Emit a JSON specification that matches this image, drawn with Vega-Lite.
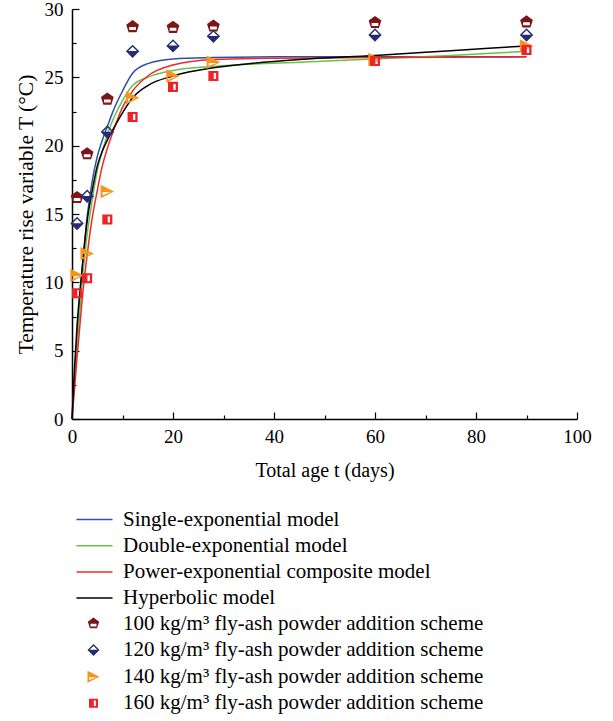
{
  "$schema": "https://vega.github.io/schema/vega-lite/v6.json",
  "autosize": {"type": "none"},
  "width": 505,
  "height": 410,
  "padding": {"left": 72, "top": 9, "right": 36, "bottom": 302},
  "background": "white",
  "config": {
    "view": {"stroke": null},
    "font": "Liberation Serif",
    "axis": {"labelFont": "Liberation Serif", "titleFont": "Liberation Serif", "labelFontSize": 19, "titleFontSize": 20, "titleFontWeight": "normal", "labelColor": "#000", "titleColor": "#000", "domainColor": "#000", "tickColor": "#000", "grid": false, "labelFlush": false},
    "legend": {"labelFont": "Liberation Serif", "labelFontSize": 21, "labelColor": "#000", "title": null, "labelLimit": 0}
  },
  "datasets": {
    "models": [
      {"model": "Single-exponential model", "t": 0, "T": 0},
      {"model": "Single-exponential model", "t": 0.5, "T": 3.0},
      {"model": "Single-exponential model", "t": 1, "T": 5.8},
      {"model": "Single-exponential model", "t": 2, "T": 10.8},
      {"model": "Single-exponential model", "t": 3, "T": 14.8},
      {"model": "Single-exponential model", "t": 4, "T": 17.4},
      {"model": "Single-exponential model", "t": 5, "T": 19.2},
      {"model": "Single-exponential model", "t": 6, "T": 20.4},
      {"model": "Single-exponential model", "t": 7, "T": 21.4},
      {"model": "Single-exponential model", "t": 8, "T": 22.4},
      {"model": "Single-exponential model", "t": 10, "T": 24.0},
      {"model": "Single-exponential model", "t": 12, "T": 25.3},
      {"model": "Single-exponential model", "t": 15, "T": 26.0},
      {"model": "Single-exponential model", "t": 20, "T": 26.35},
      {"model": "Single-exponential model", "t": 28, "T": 26.45},
      {"model": "Single-exponential model", "t": 40, "T": 26.5},
      {"model": "Single-exponential model", "t": 60, "T": 26.5},
      {"model": "Single-exponential model", "t": 90, "T": 26.5},
      {"model": "Double-exponential model", "t": 0, "T": 0},
      {"model": "Double-exponential model", "t": 0.5, "T": 2.9},
      {"model": "Double-exponential model", "t": 1, "T": 5.5},
      {"model": "Double-exponential model", "t": 2, "T": 10.0},
      {"model": "Double-exponential model", "t": 3, "T": 13.5},
      {"model": "Double-exponential model", "t": 4, "T": 16.0},
      {"model": "Double-exponential model", "t": 5, "T": 18.2},
      {"model": "Double-exponential model", "t": 6, "T": 19.6},
      {"model": "Double-exponential model", "t": 7, "T": 20.8},
      {"model": "Double-exponential model", "t": 8, "T": 21.8},
      {"model": "Double-exponential model", "t": 10, "T": 23.3},
      {"model": "Double-exponential model", "t": 12, "T": 24.4},
      {"model": "Double-exponential model", "t": 15, "T": 25.0},
      {"model": "Double-exponential model", "t": 20, "T": 25.5},
      {"model": "Double-exponential model", "t": 28, "T": 25.8},
      {"model": "Double-exponential model", "t": 35, "T": 25.95},
      {"model": "Double-exponential model", "t": 45, "T": 26.1},
      {"model": "Double-exponential model", "t": 60, "T": 26.35},
      {"model": "Double-exponential model", "t": 75, "T": 26.6},
      {"model": "Double-exponential model", "t": 90, "T": 26.9},
      {"model": "Power-exponential composite model", "t": 0, "T": 0},
      {"model": "Power-exponential composite model", "t": 0.5, "T": 2.2},
      {"model": "Power-exponential composite model", "t": 1, "T": 4.5},
      {"model": "Power-exponential composite model", "t": 2, "T": 8.7},
      {"model": "Power-exponential composite model", "t": 3, "T": 12.0},
      {"model": "Power-exponential composite model", "t": 4, "T": 14.7},
      {"model": "Power-exponential composite model", "t": 5, "T": 16.7},
      {"model": "Power-exponential composite model", "t": 6, "T": 18.5},
      {"model": "Power-exponential composite model", "t": 7, "T": 19.8},
      {"model": "Power-exponential composite model", "t": 8, "T": 20.9},
      {"model": "Power-exponential composite model", "t": 10, "T": 22.8},
      {"model": "Power-exponential composite model", "t": 12, "T": 24.0},
      {"model": "Power-exponential composite model", "t": 15, "T": 25.1},
      {"model": "Power-exponential composite model", "t": 20, "T": 25.9},
      {"model": "Power-exponential composite model", "t": 28, "T": 26.3},
      {"model": "Power-exponential composite model", "t": 40, "T": 26.4},
      {"model": "Power-exponential composite model", "t": 60, "T": 26.45},
      {"model": "Power-exponential composite model", "t": 90, "T": 26.5},
      {"model": "Hyperbolic model", "t": 0, "T": 0},
      {"model": "Hyperbolic model", "t": 0.5, "T": 3.7},
      {"model": "Hyperbolic model", "t": 1, "T": 6.8},
      {"model": "Hyperbolic model", "t": 2, "T": 11.0},
      {"model": "Hyperbolic model", "t": 3, "T": 14.5},
      {"model": "Hyperbolic model", "t": 4, "T": 16.7},
      {"model": "Hyperbolic model", "t": 5, "T": 18.5},
      {"model": "Hyperbolic model", "t": 6, "T": 19.6},
      {"model": "Hyperbolic model", "t": 7, "T": 20.4},
      {"model": "Hyperbolic model", "t": 8, "T": 21.1},
      {"model": "Hyperbolic model", "t": 10, "T": 22.4},
      {"model": "Hyperbolic model", "t": 12, "T": 23.5},
      {"model": "Hyperbolic model", "t": 15, "T": 24.4},
      {"model": "Hyperbolic model", "t": 20, "T": 25.1},
      {"model": "Hyperbolic model", "t": 28, "T": 25.7},
      {"model": "Hyperbolic model", "t": 35, "T": 26.0},
      {"model": "Hyperbolic model", "t": 45, "T": 26.3},
      {"model": "Hyperbolic model", "t": 60, "T": 26.6},
      {"model": "Hyperbolic model", "t": 75, "T": 26.95},
      {"model": "Hyperbolic model", "t": 90, "T": 27.3}
    ],
    "points": [
      {"scheme": "100 kg/m³ fly-ash powder addition scheme", "t": 1, "T": 16.2},
      {"scheme": "100 kg/m³ fly-ash powder addition scheme", "t": 3, "T": 19.4},
      {"scheme": "100 kg/m³ fly-ash powder addition scheme", "t": 7, "T": 23.4},
      {"scheme": "100 kg/m³ fly-ash powder addition scheme", "t": 12, "T": 28.7},
      {"scheme": "100 kg/m³ fly-ash powder addition scheme", "t": 20, "T": 28.65},
      {"scheme": "100 kg/m³ fly-ash powder addition scheme", "t": 28, "T": 28.75},
      {"scheme": "100 kg/m³ fly-ash powder addition scheme", "t": 60, "T": 29.0},
      {"scheme": "100 kg/m³ fly-ash powder addition scheme", "t": 90, "T": 29.05},
      {"scheme": "120 kg/m³ fly-ash powder addition scheme", "t": 1, "T": 14.3},
      {"scheme": "120 kg/m³ fly-ash powder addition scheme", "t": 3, "T": 16.3},
      {"scheme": "120 kg/m³ fly-ash powder addition scheme", "t": 7, "T": 21.0},
      {"scheme": "120 kg/m³ fly-ash powder addition scheme", "t": 12, "T": 26.9},
      {"scheme": "120 kg/m³ fly-ash powder addition scheme", "t": 20, "T": 27.3},
      {"scheme": "120 kg/m³ fly-ash powder addition scheme", "t": 28, "T": 28.0},
      {"scheme": "120 kg/m³ fly-ash powder addition scheme", "t": 60, "T": 28.1},
      {"scheme": "120 kg/m³ fly-ash powder addition scheme", "t": 90, "T": 28.1},
      {"scheme": "140 kg/m³ fly-ash powder addition scheme", "t": 1, "T": 10.5},
      {"scheme": "140 kg/m³ fly-ash powder addition scheme", "t": 3, "T": 12.1},
      {"scheme": "140 kg/m³ fly-ash powder addition scheme", "t": 7, "T": 16.65},
      {"scheme": "140 kg/m³ fly-ash powder addition scheme", "t": 12, "T": 23.5},
      {"scheme": "140 kg/m³ fly-ash powder addition scheme", "t": 20, "T": 25.1},
      {"scheme": "140 kg/m³ fly-ash powder addition scheme", "t": 28, "T": 26.1},
      {"scheme": "140 kg/m³ fly-ash powder addition scheme", "t": 60, "T": 26.3},
      {"scheme": "140 kg/m³ fly-ash powder addition scheme", "t": 90, "T": 27.3},
      {"scheme": "160 kg/m³ fly-ash powder addition scheme", "t": 1, "T": 9.2},
      {"scheme": "160 kg/m³ fly-ash powder addition scheme", "t": 3, "T": 10.3},
      {"scheme": "160 kg/m³ fly-ash powder addition scheme", "t": 7, "T": 14.6},
      {"scheme": "160 kg/m³ fly-ash powder addition scheme", "t": 12, "T": 22.1},
      {"scheme": "160 kg/m³ fly-ash powder addition scheme", "t": 20, "T": 24.3},
      {"scheme": "160 kg/m³ fly-ash powder addition scheme", "t": 28, "T": 25.1},
      {"scheme": "160 kg/m³ fly-ash powder addition scheme", "t": 60, "T": 26.2},
      {"scheme": "160 kg/m³ fly-ash powder addition scheme", "t": 90, "T": 27.0}
    ]
  },
  "layer": [
    {
      "data": {"name": "models"},
      "mark": {"type": "line", "strokeWidth": 1.5, "interpolate": "monotone"},
      "encoding": {
        "x": {"field": "t", "type": "quantitative", "scale": {"domain": [0, 100], "nice": false},
          "axis": {"title": "Total age t (days)", "values": [0, 20, 40, 60, 80, 100], "tickSize": -7, "labelPadding": 15, "titlePadding": 14, "domainWidth": 1.5, "tickWidth": 1.2}},
        "y": {"field": "T", "type": "quantitative", "scale": {"domain": [0, 30], "nice": false},
          "axis": {"title": "Temperature rise variable T (°C)", "titleFontSize": 21.5, "values": [0, 5, 10, 15, 20, 25, 30], "tickSize": -7, "labelPadding": 16, "titlePadding": 7, "domainWidth": 1.5, "tickWidth": 1.2}},
        "stroke": {"field": "model", "type": "nominal",
          "scale": {"domain": ["Single-exponential model", "Double-exponential model", "Power-exponential composite model", "Hyperbolic model"], "range": ["#2f4fa8", "#6cc046", "#ee2a2a", "#000000"]},
          "legend": {"orient": "none", "legendX": 12, "legendY": 500, "symbolType": "M-3,0L3,0", "symbolSize": 144, "symbolStrokeWidth": 1.5, "labelOffset": 18, "rowPadding": 4.2}},
        "order": {"field": "t", "type": "quantitative"}
      }
    },
    {
      "data": {"name": "points"},
      "mark": {"type": "point", "filled": true, "size": 180, "opacity": 1, "strokeWidth": 0},
      "encoding": {
        "x": {"field": "t", "type": "quantitative", "axis": {"title": null, "labels": false, "domain": false, "values": [10, 30, 50, 70, 90], "tickSize": -4, "orient": "bottom", "tickWidth": 1.2}},
        "y": {"field": "T", "type": "quantitative", "axis": {"title": null, "labels": false, "domain": false, "values": [2.5, 7.5, 12.5, 17.5, 22.5, 27.5], "tickSize": -4, "orient": "left", "tickWidth": 1.2}},
        "shape": {"field": "scheme", "type": "nominal",
          "scale": {"domain": ["100 kg/m³ fly-ash powder addition scheme", "120 kg/m³ fly-ash powder addition scheme", "140 kg/m³ fly-ash powder addition scheme", "160 kg/m³ fly-ash powder addition scheme"],
            "range": ["M0,-1L0.95,-0.31L0.59,0.81L-0.59,0.81L-0.95,-0.31ZM-0.5,0.05L-0.5,0.5L0.5,0.5L0.5,0.05Z", "M0,-1L1,0L0,1L-1,0ZM0,-0.7L-0.65,-0.05L0.65,-0.05Z", "M-1,-1L1,0L-1,1ZM-0.7,0.1L-0.7,0.55L0.45,0.1Z", "M-0.75,-0.75L0.75,-0.75L0.75,0.75L-0.75,0.75ZM0.05,-0.45L0.05,0.45L0.4,0.45L0.4,-0.45Z"]},
          "legend": {"orient": "none", "legendX": 11, "legendY": 604, "symbolSize": 144, "labelOffset": 19, "rowPadding": 4.6}},
        "fill": {"field": "scheme", "type": "nominal",
          "scale": {"domain": ["100 kg/m³ fly-ash powder addition scheme", "120 kg/m³ fly-ash powder addition scheme", "140 kg/m³ fly-ash powder addition scheme", "160 kg/m³ fly-ash powder addition scheme"], "range": ["#7b1518", "#272b72", "#f7941d", "#ec2327"]},
          "legend": {"orient": "none", "legendX": 11, "legendY": 604, "symbolSize": 144, "labelOffset": 19, "rowPadding": 4.6}}
      }
    }
  ],
  "resolve": {"axis": {"x": "independent", "y": "independent"}}
}
